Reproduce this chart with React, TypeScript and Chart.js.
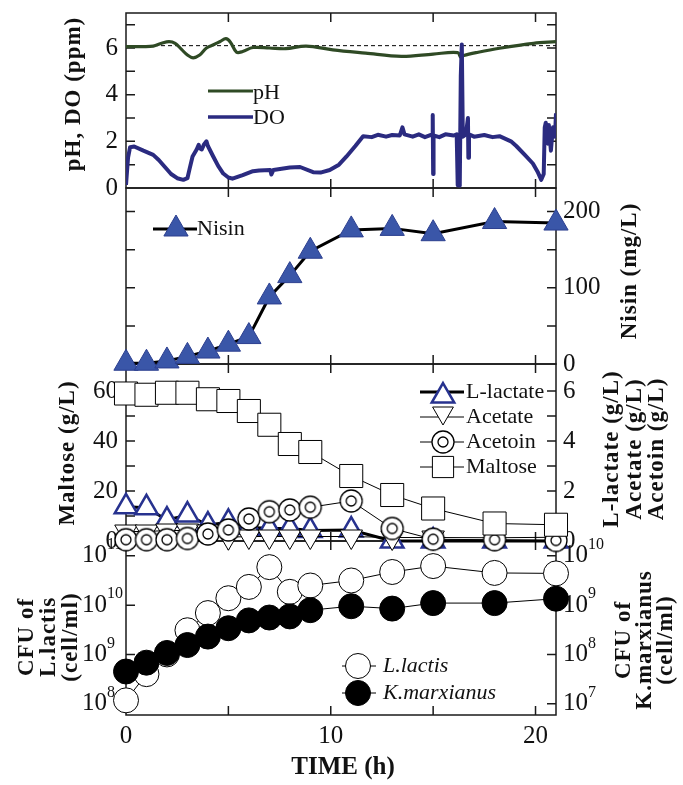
import React, { useEffect, useRef } from 'react';
import { Chart, registerables } from 'chart.js';
import { drawPoint } from 'chart.js/helpers';

Chart.register(...registerables);

// ---------------- data ----------------
const sampleHours = [0, 1, 2, 3, 4, 5, 6, 7, 8, 9, 11, 13, 15, 18, 21];
const nisinMgL = [1, 1, 4, 10, 17, 26, 36, 88, 116, 148, 176, 178, 171, 187, 185];
const lLactateGL = [1.37, 1.33, 0.84, 1.04, 0.64, 0.75, 0.55, 0.5, 0.5, 0.42, 0.44, 0.0, 0.0, 0.0, 0.0];
const acetateGL = [0.38, 0.38, 0.42, 0.42, 0.38, 0.15, 0.18, 0.18, 0.18, 0.18, 0.18, 0.14, 0.14, 0.13, 0.15];
const acetoinGL = [0.05, 0.05, 0.05, 0.1, 0.28, 0.44, 0.88, 1.17, 1.24, 1.35, 1.6, 0.5, 0.07, 0.05, 0.02];
const maltoseGL = [59, 58.5, 59.3, 59.3, 56.7, 56, 52, 46.5, 38.8, 35.6, 26, 18.4, 13, 7, 6.5];
const lactisCFU = [1.17e8, 3.98e8, 1.0e9, 3.09e9, 6.9e9, 1.38e10, 2.34e10, 5.9e10, 1.86e10, 2.5e10, 3.16e10, 4.7e10, 6.2e10, 4.5e10, 4.4e10];
const marxianusCFU = [4.5e7, 6.8e7, 1.07e8, 1.55e8, 2.3e8, 3.4e8, 4.9e8, 5.6e8, 5.9e8, 7.9e8, 9.5e8, 8.5e8, 1.1e9, 1.1e9, 1.35e9];

const phHours = [0, 0.85, 1.33, 1.74, 2.1, 2.4, 2.7, 3.0, 3.28, 3.6, 3.93, 4.3, 4.6, 4.88, 5.1, 5.4, 5.7, 6.2, 7.0, 7.8, 8.8, 10.1, 11.7, 13.45, 15.0, 16.2, 16.35, 16.5, 17.2, 18.24, 19.9, 21.0];
const phValues = [6.06, 6.06, 6.08, 6.2, 6.27, 6.2, 5.95, 5.7, 5.58, 5.7, 6.0, 6.15, 6.28, 6.4, 6.25, 5.82, 5.85, 6.02, 6.0, 5.97, 6.08, 5.92, 5.78, 5.64, 5.74, 5.8, 5.6, 5.68, 5.82, 5.99, 6.2, 6.27];
const phReference = 6.1;

const doHours = [0, 0.1, 0.2, 0.4, 0.85, 1.33, 1.6, 1.9, 2.2, 2.5, 2.8, 3.0, 3.1, 3.25, 3.45, 3.55, 3.6, 3.7, 3.8, 3.93, 4.0, 4.26, 4.5, 4.75, 5.0, 5.2, 5.7, 6.2, 6.5, 7.05, 7.1, 7.2, 8.0, 8.5, 9.14, 9.5, 9.95, 10.4, 10.76, 11.2, 11.58, 12.0, 12.3, 12.7, 13.0, 13.37, 13.5, 13.6, 14.0, 14.3, 14.6, 14.96, 14.98, 15.0, 15.02, 15.3, 15.6, 16.0, 16.15, 16.2, 16.3, 16.35, 16.4, 16.45, 16.6, 16.7, 16.72, 16.75, 17.0, 17.5, 17.9, 18.24, 18.8, 19.06, 19.5, 19.87, 20.1, 20.28, 20.4, 20.45, 20.5, 20.6, 20.65, 20.75, 20.85, 20.95, 21.0];
const doValues = [0.13, 1.3, 1.75, 1.78, 1.6, 1.42, 1.2, 0.9, 0.6, 0.42, 0.35, 0.42, 0.8, 1.35, 1.65, 1.85, 1.7, 1.65, 1.85, 2.0, 1.8, 1.35, 0.95, 0.62, 0.45, 0.4, 0.55, 0.72, 0.75, 0.77, 0.58, 0.77, 0.88, 0.9, 0.68, 0.66, 0.77, 1.0, 1.34, 1.8, 2.22, 2.18, 2.28, 2.2, 2.27, 2.25, 2.6, 2.3, 2.2, 2.3, 2.18, 2.3, 3.13, 0.6, 2.25, 2.18, 2.3, 2.25, 2.3, 0.12, 0.1, 4.8, 6.15, 2.2, 2.3, 3.0, 1.3, 2.3, 2.2, 2.27, 2.18, 2.22, 2.0, 1.8, 1.4, 1.05, 0.7, 0.35, 0.6, 2.6, 2.8, 1.9, 2.7, 1.6, 2.6, 2.2, 3.2];

// ---------------- tick values / labels ----------------
const timeTicks = [5, 10, 15, 20];
const timeLabels = [0, 10, 20];
const phTicks = [1, 2, 3, 4, 5, 6, 7];
const phLabels = [0, 2, 4, 6];
const nisinTicks = [50, 100, 150, 200];
const nisinLabels = [0, 100, 200];
const maltoseTicks = [10, 20, 30, 40, 50, 60];
const maltoseLabels = [0, 20, 40, 60];
const acidTicks = [1, 2, 3, 4, 5, 6];
const acidLabels = [0, 2, 4, 6];
const cfuLeftExponents = [8, 9, 10, 11];
const cfuRightExponents = [7, 8, 9, 10];

const SERIF = '"Liberation Serif", "Times New Roman", Times, serif';
const INK = '#111111';
const PH_GREEN = '#2f4a25';
const DO_BLUE = '#2b2b80';
const NISIN_FILL = '#3a56a8';
const NISIN_EDGE = '#2c3f8f';
const LACT_EDGE = '#27328f';

function makeAcetoinMarker() {
  const c = document.createElement('canvas');
  c.width = 26;
  c.height = 26;
  const g = c.getContext('2d')!;
  g.fillStyle = '#ffffff';
  g.strokeStyle = '#000000';
  g.lineWidth = 1.3;
  g.beginPath();
  g.arc(13, 13, 11, 0, Math.PI * 2);
  g.fill();
  g.stroke();
  g.beginPath();
  g.arc(13, 13, 5, 0, Math.PI * 2);
  g.stroke();
  return c;
}

function vText(ctx: CanvasRenderingContext2D, text: string, x: number, y: number, font: string) {
  ctx.save();
  ctx.translate(x, y);
  ctx.rotate(-Math.PI / 2);
  ctx.font = font;
  try { (ctx as any).letterSpacing = '1px'; } catch (e) {}
  ctx.textAlign = 'center';
  ctx.textBaseline = 'middle';
  ctx.fillText(text, 0, 0);
  ctx.restore();
}

function powLabel(ctx: CanvasRenderingContext2D, exp: number, x: number, y: number) {
  ctx.font = `25px ${SERIF}`;
  ctx.textAlign = 'left';
  ctx.textBaseline = 'middle';
  ctx.fillText('10', x, y);
  const w = ctx.measureText('10').width;
  ctx.font = `16px ${SERIF}`;
  ctx.fillText(String(exp), x + w, y - 11);
}

function makePlugin(acetoinMarker: HTMLCanvasElement) {
  const panels = [
    { left: 'yPH', right: 'yPHR', lt: phTicks, rt: phTicks },
    { left: 'yNisL', right: 'yNis', lt: nisinTicks, rt: nisinTicks },
    { left: 'yMalt', right: 'yAcid', lt: maltoseTicks, rt: acidTicks },
    { left: 'yCFU', right: 'yCFUR', lt: cfuLeftExponents.map((e) => Math.pow(10, e)), rt: cfuRightExponents.map((e) => Math.pow(10, e)) },
  ];
  return {
    id: 'panelAxes',
    beforeDatasetsDraw(chart: any) {
      const ctx: CanvasRenderingContext2D = chart.ctx;
      const ca = chart.chartArea;
      const s = chart.scales;
      const xs = s.x;
      const L = ca.left;
      const R = ca.right;
      const T = 9;
      ctx.save();
      ctx.strokeStyle = '#1a1a1a';
      ctx.lineWidth = 1.5;
      for (const p of panels) {
        const top = s[p.left].top;
        const bot = s[p.left].bottom;
        ctx.strokeRect(L, top, R - L, bot - top);
        ctx.beginPath();
        for (const t of timeTicks) {
          const px = xs.getPixelForValue(t);
          ctx.moveTo(px, top);
          ctx.lineTo(px, top + T);
          ctx.moveTo(px, bot);
          ctx.lineTo(px, bot - T);
        }
        for (const v of p.lt) {
          const py = s[p.left].getPixelForValue(v);
          ctx.moveTo(L, py);
          ctx.lineTo(L + T, py);
        }
        for (const v of p.rt) {
          const py = s[p.right].getPixelForValue(v);
          ctx.moveTo(R, py);
          ctx.lineTo(R - T, py);
        }
        ctx.stroke();
      }

      // numeric tick labels
      ctx.fillStyle = INK;
      ctx.font = `25px ${SERIF}`;
      ctx.textBaseline = 'middle';
      ctx.textAlign = 'right';
      for (const v of phLabels) ctx.fillText(String(v), 118, s.yPH.getPixelForValue(v));
      for (const v of maltoseLabels) ctx.fillText(String(v), 118, s.yMalt.getPixelForValue(v));
      ctx.textAlign = 'left';
      for (const v of nisinLabels) ctx.fillText(String(v), 563, s.yNis.getPixelForValue(v));
      for (const v of acidLabels) ctx.fillText(String(v), 563, s.yAcid.getPixelForValue(v));
      ctx.textAlign = 'center';
      for (const v of timeLabels) ctx.fillText(String(v), xs.getPixelForValue(v), 736);
      for (const e of cfuLeftExponents) powLabel(ctx, e, 82, s.yCFU.getPixelForValue(Math.pow(10, e)));
      for (const e of cfuRightExponents) powLabel(ctx, e, 563, s.yCFUR.getPixelForValue(Math.pow(10, e)));

      // axis titles
      const bold = `bold 23px ${SERIF}`;
      vText(ctx, 'pH, DO (ppm)', 74, 94, bold);
      vText(ctx, 'Maltose (g/L)', 68, 453, bold);
      vText(ctx, 'Nisin (mg/L)', 630, 271, bold);
      vText(ctx, 'L-lactate (g/L)', 612, 449, bold);
      vText(ctx, 'Acetate (g/L)', 635, 449, bold);
      vText(ctx, 'Acetoin (g/L)', 657, 449, bold);
      vText(ctx, 'CFU of', 27, 637, bold);
      vText(ctx, 'L.lactis', 49, 637, bold);
      vText(ctx, '(cell/ml)', 71, 637, bold);
      vText(ctx, 'CFU of', 624, 640, bold);
      vText(ctx, 'K.marxianus', 645, 640, bold);
      vText(ctx, '(cell/ml)', 666, 640, bold);
      ctx.font = `bold 25px ${SERIF}`;
      ctx.textAlign = 'center';
      ctx.fillText('TIME (h)', 343, 768);
      ctx.restore();
    },
    afterDatasetsDraw(chart: any) {
      const ctx: CanvasRenderingContext2D = chart.ctx;
      ctx.save();
      const seg = (x1: number, x2: number, y: number, color: string, w: number) => {
        ctx.strokeStyle = color;
        ctx.lineWidth = w;
        ctx.beginPath();
        ctx.moveTo(x1, y);
        ctx.lineTo(x2, y);
        ctx.stroke();
      };
      const label = (t: string, x: number, y: number, font: string) => {
        ctx.fillStyle = INK;
        ctx.font = font;
        ctx.textAlign = 'left';
        ctx.textBaseline = 'middle';
        ctx.fillText(t, x, y);
      };
      const mark = (style: any, r: number, x: number, y: number, fill: string, stroke: string, bw: number, rot = 0) => {
        ctx.fillStyle = fill;
        ctx.strokeStyle = stroke;
        ctx.lineWidth = bw;
        drawPoint(ctx, { pointStyle: style, radius: r, borderWidth: bw, rotation: rot } as any, x, y);
      };
      const reg = `22px ${SERIF}`;
      // pH / DO legend
      seg(208, 253, 91, PH_GREEN, 3);
      label('pH', 253, 93, reg);
      seg(208, 253, 117, DO_BLUE, 3.5);
      label('DO', 253, 118, reg);
      // Nisin legend
      seg(153, 197, 229, '#000', 3);
      mark('triangle', 14, 176, 229, NISIN_FILL, NISIN_EDGE, 1);
      label('Nisin', 197, 229, reg);
      // acids / maltose legend
      seg(420, 464, 392, '#000', 3);
      mark('triangle', 13, 443, 396, '#fff', LACT_EDGE, 2.5);
      label('L-lactate', 466, 392, reg);
      seg(420, 464, 417, '#000', 1);
      mark('triangle', 12, 443, 413, '#fff', '#000', 1, 180);
      label('Acetate', 466, 417, reg);
      seg(420, 464, 442, '#000', 1);
      ctx.drawImage(acetoinMarker, 443 - 13, 442 - 13);
      label('Acetoin', 466, 442, reg);
      seg(420, 464, 467, '#000', 1);
      mark('rect', 15, 443, 467, '#fff', '#000', 1);
      label('Maltose', 466, 467, reg);
      // CFU legend
      const it = `italic 22px ${SERIF}`;
      seg(342, 376, 666, '#000', 1);
      mark('circle', 12.5, 358, 666, '#fff', '#000', 1);
      label('L.lactis', 383, 666, it);
      seg(342, 376, 693, '#000', 1);
      mark('circle', 12.5, 358, 693, '#000', '#000', 1);
      label('K.marxianus', 383, 693, it);
      ctx.restore();
    },
  };
}

const pts = (xs: number[], ys: number[]) => xs.map((x, i) => ({ x, y: ys[i] }));

export default function App() {
  const ref = useRef<HTMLCanvasElement>(null);
  useEffect(() => {
    document.body.style.margin = '0';
    const acetoinMarker = makeAcetoinMarker();
    const yBase = { type: 'linear', display: false, bounds: 'data' };
    const chart = new Chart(ref.current!, {
      type: 'line',
      data: {
        datasets: [
          { label: 'K.marxianus', data: pts(sampleHours, marxianusCFU), yAxisID: 'yCFUR', order: 1, borderColor: '#000', borderWidth: 1, pointStyle: 'circle', pointRadius: 12.5, pointBackgroundColor: '#000', pointBorderColor: '#000', pointBorderWidth: 1, clip: false },
          { label: 'L.lactis', data: pts(sampleHours, lactisCFU), yAxisID: 'yCFU', order: 2, borderColor: '#000', borderWidth: 1, pointStyle: 'circle', pointRadius: 12.5, pointBackgroundColor: '#fff', pointBorderColor: '#000', pointBorderWidth: 1, clip: false },
          { label: 'Maltose', data: pts(sampleHours, maltoseGL), yAxisID: 'yMalt', order: 3, borderColor: '#000', borderWidth: 1, pointStyle: 'rect', pointRadius: 16.3, pointBackgroundColor: '#fff', pointBorderColor: '#000', pointBorderWidth: 1, clip: false },
          { label: 'Acetoin', data: pts(sampleHours, acetoinGL), yAxisID: 'yAcid', order: 4, borderColor: '#000', borderWidth: 1, pointStyle: acetoinMarker, pointRadius: 11, clip: false },
          { label: 'Acetate', data: pts(sampleHours, acetateGL), yAxisID: 'yAcid', order: 5, borderColor: '#000', borderWidth: 1, pointStyle: 'triangle', pointRotation: 180, pointRadius: 13, pointBackgroundColor: '#fff', pointBorderColor: '#000', pointBorderWidth: 1, clip: false },
          { label: 'L-lactate', data: pts(sampleHours, lLactateGL), yAxisID: 'yAcid', order: 6, borderColor: '#000', borderWidth: 3, pointStyle: 'triangle', pointRadius: 13, pointBackgroundColor: '#fff', pointBorderColor: LACT_EDGE, pointBorderWidth: 2.5, clip: false },
          { label: 'Nisin', data: pts(sampleHours, nisinMgL), yAxisID: 'yNis', order: 7, borderColor: '#000', borderWidth: 3, pointStyle: 'triangle', pointRadius: 14, pointBackgroundColor: NISIN_FILL, pointBorderColor: NISIN_EDGE, pointBorderWidth: 1, clip: false },
          { label: 'DO', data: pts(doHours, doValues), yAxisID: 'yPH', order: 8, borderColor: DO_BLUE, borderWidth: 4, pointRadius: 0, tension: 0, borderJoinStyle: 'round' },
          { label: 'pH', data: pts(phHours, phValues), yAxisID: 'yPH', order: 9, borderColor: PH_GREEN, borderWidth: 3.2, pointRadius: 0, tension: 0.35 },
          { label: 'pH ref', data: pts([0, 21], [phReference, phReference]), yAxisID: 'yPH', order: 10, borderColor: '#000', borderWidth: 1, borderDash: [4, 3], pointRadius: 0 },
        ] as any,
      },
      options: {
        animation: false,
        responsive: false,
        devicePixelRatio: 1,
        events: [],
        layout: { padding: { left: 126, right: 127, top: 13, bottom: 70 }, autoPadding: false },
        plugins: { legend: { display: false }, tooltip: { enabled: false }, title: { display: false } },
        scales: {
          x: { type: 'linear', display: false, bounds: 'data', min: 0, max: 21 },
          yPH: { ...yBase, position: 'left', stack: 'L', stackWeight: 175, weight: 4, min: 0, max: 7.5 },
          yNisL: { ...yBase, position: 'left', stack: 'L', stackWeight: 176, weight: 3, min: 0, max: 231 },
          yMalt: { ...yBase, position: 'left', stack: 'L', stackWeight: 177, weight: 2, min: 0, max: 70.8 },
          yCFU: { ...yBase, type: 'logarithmic', position: 'left', stack: 'L', stackWeight: 174, weight: 1, min: 5.9e7, max: 2.0e11 },
          yPHR: { ...yBase, position: 'right', stack: 'R', stackWeight: 175, weight: 1, min: 0, max: 7.5 },
          yNis: { ...yBase, position: 'right', stack: 'R', stackWeight: 176, weight: 2, min: 0, max: 231 },
          yAcid: { ...yBase, position: 'right', stack: 'R', stackWeight: 177, weight: 3, min: 0, max: 7.08 },
          yCFUR: { ...yBase, type: 'logarithmic', position: 'right', stack: 'R', stackWeight: 174, weight: 4, min: 5.9e6, max: 2.0e10 },
        } as any,
      },
      plugins: [makePlugin(acetoinMarker)],
    });
    return () => chart.destroy();
  }, []);
  return (
    <div style={{ position: 'absolute', left: 0, top: 0, width: 683, height: 785, background: '#fff' }}>
      <canvas ref={ref} width={683} height={785} style={{ display: 'block', width: 683, height: 785 }} />
    </div>
  );
}
